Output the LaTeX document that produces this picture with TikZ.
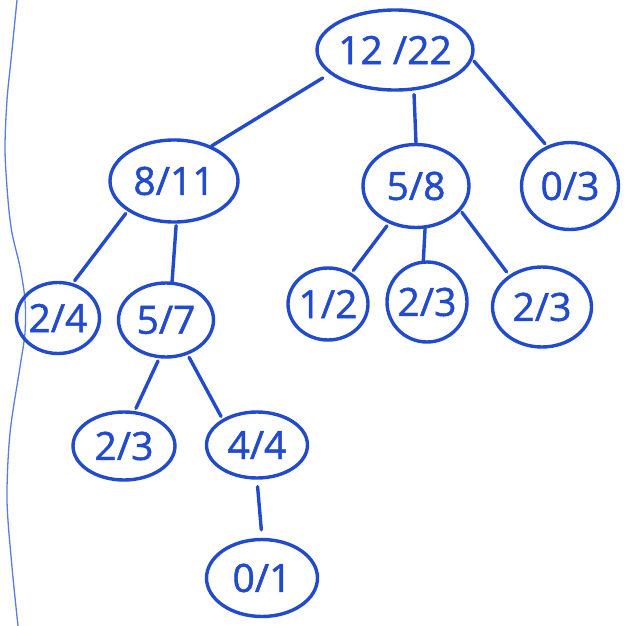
\documentclass[tikz,border=0pt]{standalone}
\usepackage{fontspec}
\setmainfont{Open Sans}
\newfontfamily\penfont[FakeBold=1.2]{Open Sans}
\usetikzlibrary{shapes.geometric}
\definecolor{pen}{RGB}{34,74,205}
\definecolor{marginline}{RGB}{90,125,225}
\begin{document}
\begin{tikzpicture}[x=1pt,y=-1pt,
  count/.style={ellipse, draw=pen, line width=3.4pt, inner sep=0pt},
  ratio/.style={text=pen, inner sep=0pt, font=\penfont\fontsize{39}{39}\selectfont},
  link/.style={draw=pen, line width=3.4pt, line cap=round},
]
\useasboundingbox[fill=white] (0,0) rectangle (635,626);

% margin rule on the left
\draw[marginline, line width=1.3pt] plot[smooth] coordinates
  {(17,0) (11,60) (7,100) (5,150) (8,200) (12,233) (20,267) (25,300)
   (25,333) (20,367) (10,433) (7,500) (12,567) (18,626)};

% tree nodes: wins / visits
\node[count, minimum width=156pt, minimum height=80pt, label={[ratio]center:12 /22}] (root) at (395,50) {};
\node[count, minimum width=128pt, minimum height=82pt, label={[ratio]center:8/11}] (n811) at (174,181) {};
\node[count, minimum width=106pt, minimum height=83pt, label={[ratio]center:5/8}] (n58) at (416,186) {};
\node[count, minimum width=97pt, minimum height=87pt, label={[ratio]center:0/3}] (n03) at (570,186) {};
\node[count, minimum width=83pt, minimum height=71pt, label={[ratio]center:2/4}] (n24) at (58,318) {};
\node[count, minimum width=95pt, minimum height=74pt, label={[ratio]center:5/7}] (n57) at (166,320) {};
\node[count, minimum width=80pt, minimum height=72pt, label={[ratio]center:1/2}] (n12) at (328,304) {};
\node[count, minimum width=80pt, minimum height=80pt, label={[ratio]center:2/3}] (n23a) at (427,302) {};
\node[count, minimum width=99pt, minimum height=80pt, label={[ratio]center:2/3}] (n23b) at (542,307) {};
\node[count, minimum width=102pt, minimum height=68pt, label={[ratio]center:2/3}] (n23c) at (124,446) {};
\node[count, minimum width=101pt, minimum height=66pt, label={[ratio]center:4/4}] (n44) at (257,445) {};
\node[count, minimum width=111pt, minimum height=77pt, label={[ratio]center:0/1}] (n01) at (262,578) {};

% edges
\draw[link, shorten <=8pt] (root.200) -- (n811.43);
\draw[link, shorten <=4pt] (root.-65) -- (n58.north);
\draw[link, shorten <=2pt, shorten >=3pt] (root.-7) -- (n03.120);
\draw[link, shorten <=3pt, shorten >=3pt] (n58.234) -- (n12.53);
\draw[link] (n58.-78) -- (n23a.95);
\draw[link, shorten <=2pt, shorten >=4pt] (n58.-29) -- (n23b.136);
\draw[link, shorten <=3pt, shorten >=3pt] (n811.213) -- (n24.67);
\draw[link, shorten <=2pt] (n811.-87) -- (n57.81);
\draw[link, shorten <=3pt, shorten >=3pt] (n57.260) -- (n23c.73);
\draw[link, shorten <=3pt, shorten >=3pt] (n57.-58) -- (n44.143);
\draw[link, shorten <=7pt, shorten >=8pt] (n44.south) -- (n01.north);
\end{tikzpicture}
\end{document}
